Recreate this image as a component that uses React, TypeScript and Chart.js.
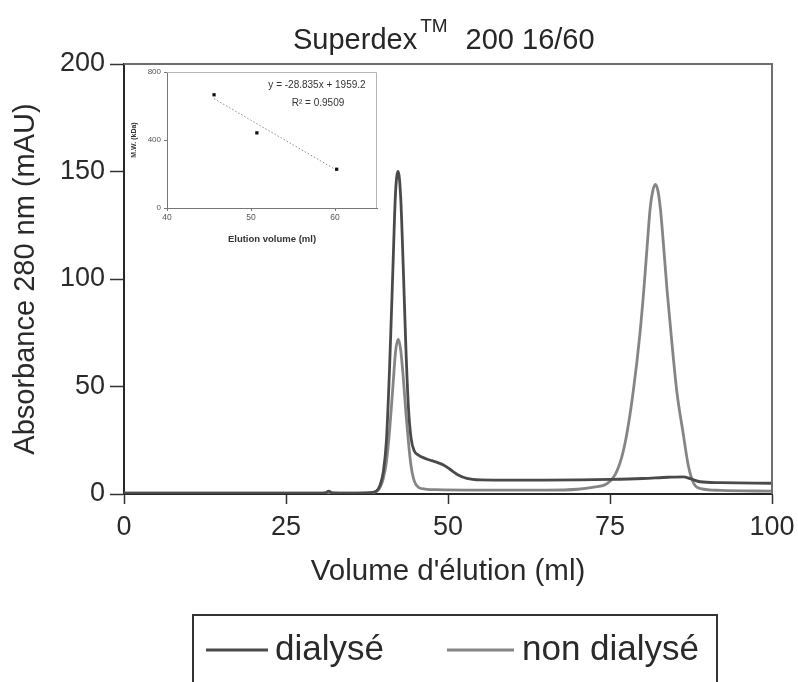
import React, { useEffect, useRef } from "react";
import { Chart, registerables } from "chart.js";

Chart.register(...registerables);

const FONT = "'Liberation Sans', Arial, Helvetica, sans-serif";

// ---- texts ----
const TITLE_MAIN = "Superdex";
const TITLE_SUP = "TM";
const TITLE_REST = "200 16/60";
const X_TITLE = "Volume d'élution (ml)";
const Y_TITLE = "Absorbance 280 nm (mAU)";
const SERIES_NAMES = ["dialysé", "non dialysé"];

// ---- main axes ----
const X_TICKS = [0, 25, 50, 75, 100];
const Y_TICKS = [0, 50, 100, 150, 200];

// ---- main series (elution volume ml, absorbance mAU) ----
const dialyseX = [0, 10, 20, 30, 31, 31.6, 32.2, 35, 38, 39, 39.5, 40, 40.5, 41, 41.5, 41.9, 42.3, 42.7, 43.1, 43.5, 43.9, 44.3, 44.8, 45.5, 46.5, 47.5, 48.5, 49.3, 50.3, 51.5, 52.9, 55, 60, 65, 70, 75, 80, 84, 86.3, 87.5, 88.9, 92, 100];
const dialyseY = [0.4, 0.4, 0.4, 0.4, 0.5, 1.3, 0.5, 0.4, 0.6, 1.5, 4, 10, 25, 60, 105, 140, 150, 138, 105, 68, 40, 26, 20, 18, 16.5, 15.5, 14.5, 13.5, 11.5, 9, 7.3, 6.6, 6.5, 6.5, 6.6, 6.8, 7.2, 7.8, 8, 7, 5.7, 5.3, 5.0];

const nonDialyseX = [0, 10, 20, 30, 35, 38, 39, 39.5, 40, 40.5, 41, 41.5, 41.9, 42.3, 42.7, 43.1, 43.5, 43.9, 44.3, 44.8, 45.5, 46.5, 48, 55, 65, 70, 72.5, 74.5, 75.8, 76.8, 77.6, 78.6, 79.6, 80.3, 80.8, 81.2, 81.6, 82, 82.4, 82.8, 83.2, 83.8, 84.5, 85.3, 86.3, 87.1, 87.9, 89, 92, 100];
const nonDialyseY = [0.4, 0.4, 0.4, 0.4, 0.4, 0.5, 1.2, 3, 7, 15, 30, 50, 66, 72, 67, 54, 38, 24, 13, 6, 3, 2.3, 2, 1.8, 1.8, 2.2, 3.2, 4.7, 9, 17, 28, 48, 74, 98, 118, 133, 141, 144, 141, 132, 118, 95, 72, 48, 28, 13, 5, 2.5, 1.7, 1.3];

// ---- inset (calibration) ----
const INSET_X_TITLE = "Elution volume (ml)";
const INSET_Y_TITLE = "M.W. (kDa)";
const INSET_X_TICKS = [40, 50, 60];
const INSET_Y_TICKS = [0, 400, 800];
const insetVolume = [45.6, 50.7, 60.2];
const insetMW = [666, 442, 228];
const trendVolume = [45.6, 60.2];
const trendMW = [643, 222];
const INSET_EQUATION = "y = -28.835x + 1959.2";
const INSET_R2 = "R\u00B2 = 0.9509";

const COLOR_DIALYSE = "#4a4a4a";
const COLOR_NON = "#858585";

const toPoints = (xs: number[], ys: number[]) => xs.map((x, i) => ({ x, y: ys[i] }));

const framePlugin = {
  id: "frame",
  afterDatasetsDraw(chart: any) {
    const { ctx, chartArea: a } = chart;
    ctx.save();
    ctx.strokeStyle = "#6e6e6e";
    ctx.lineWidth = 2;
    ctx.beginPath();
    ctx.moveTo(a.left, a.top);
    ctx.lineTo(a.right, a.top);
    ctx.lineTo(a.right, a.bottom);
    ctx.stroke();
    ctx.restore();
  },
};

const titlePlugin = {
  id: "mainTitle",
  afterDraw(chart: any) {
    const { ctx } = chart;
    ctx.save();
    ctx.fillStyle = "#262626";
    ctx.textBaseline = "alphabetic";
    ctx.textAlign = "left";
    const big = `29px ${FONT}`;
    const sup = `19px ${FONT}`;
    let x = 293;
    ctx.font = big;
    ctx.fillText(TITLE_MAIN, x, 49);
    x += ctx.measureText(TITLE_MAIN).width + 3;
    ctx.font = sup;
    ctx.fillText(TITLE_SUP, x, 32);
    x += ctx.measureText(TITLE_SUP).width + 18;
    ctx.font = big;
    ctx.fillText(TITLE_REST, x, 49);
    ctx.restore();
  },
};

const legendPlugin = {
  id: "boxLegend",
  afterDraw(chart: any) {
    const { ctx } = chart;
    ctx.save();
    ctx.strokeStyle = "#333";
    ctx.lineWidth = 2;
    ctx.strokeRect(193, 615, 524, 120);
    const items = [
      { x0: 206, x1: 268, tx: 275, color: COLOR_DIALYSE },
      { x0: 447, x1: 514, tx: 522, color: COLOR_NON },
    ];
    ctx.font = `35px ${FONT}`;
    ctx.textBaseline = "middle";
    ctx.textAlign = "left";
    items.forEach((it, i) => {
      ctx.strokeStyle = it.color;
      ctx.lineWidth = 3;
      ctx.beginPath();
      ctx.moveTo(it.x0, 650);
      ctx.lineTo(it.x1, 650);
      ctx.stroke();
      ctx.fillStyle = "#2a2a2a";
      ctx.fillText(SERIES_NAMES[i], it.tx, 650);
    });
    ctx.restore();
  },
};

const insetTextPlugin = {
  id: "insetText",
  afterDraw(chart: any) {
    const { ctx, chartArea: a } = chart;
    ctx.save();
    ctx.strokeStyle = "#b5b5b5";
    ctx.lineWidth = 1;
    ctx.beginPath();
    ctx.moveTo(a.left, a.top + 0.5);
    ctx.lineTo(a.right - 0.5, a.top + 0.5);
    ctx.lineTo(a.right - 0.5, a.bottom);
    ctx.stroke();
    ctx.fillStyle = "#333";
    ctx.font = `10px ${FONT}`;
    ctx.textAlign = "center";
    ctx.textBaseline = "middle";
    ctx.fillText(INSET_EQUATION, 192, 23);
    ctx.fillText(INSET_R2, 193, 41);
    ctx.restore();
  },
};

function MainChart() {
  const ref = useRef<HTMLCanvasElement | null>(null);
  useEffect(() => {
    if (!ref.current) return;
    const tickFont = { family: FONT, size: 27 };
    const chart = new Chart(ref.current, {
      type: "line",
      data: {
        datasets: [
          {
            label: SERIES_NAMES[0],
            data: toPoints(dialyseX, dialyseY),
            borderColor: COLOR_DIALYSE,
            borderWidth: 2.8,
            pointRadius: 0,
            cubicInterpolationMode: "monotone",
            fill: false,
          },
          {
            label: SERIES_NAMES[1],
            data: toPoints(nonDialyseX, nonDialyseY),
            borderColor: COLOR_NON,
            borderWidth: 2.8,
            pointRadius: 0,
            cubicInterpolationMode: "monotone",
            fill: false,
          },
        ],
      },
      options: {
        animation: false,
        responsive: false,
        maintainAspectRatio: false,
        layout: { padding: { left: 0, right: 0, top: 64, bottom: 0 } },
        plugins: {
          legend: { display: false },
          title: { display: false },
          tooltip: { enabled: false },
        },
        scales: {
          x: {
            type: "linear",
            min: 0,
            max: 100,
            afterFit: (s: any) => {
              s.height = 188;
              s.paddingRight = 26;
              s.paddingLeft = 0;
            },
            afterBuildTicks: (s: any) => {
              s.ticks = X_TICKS.map((v) => ({ value: v }));
            },
            grid: {
              drawOnChartArea: false,
              drawTicks: true,
              tickLength: 10,
              tickColor: "#333",
              tickWidth: 1.5,
            },
            border: { display: true, color: "#262626", width: 2 },
            ticks: { font: tickFont, color: "#2a2a2a", padding: 7, maxRotation: 0 },
            title: {
              display: true,
              text: X_TITLE,
              font: { family: FONT, size: 29.5 },
              color: "#2a2a2a",
              padding: { top: 0, bottom: 92 },
            },
          },
          y: {
            type: "linear",
            min: 0,
            max: 200,
            afterFit: (s: any) => {
              s.width = 124;
            },
            afterBuildTicks: (s: any) => {
              s.ticks = Y_TICKS.map((v) => ({ value: v }));
            },
            grid: {
              drawOnChartArea: false,
              drawTicks: true,
              tickLength: 14,
              tickColor: "#333",
              tickWidth: 1.5,
            },
            border: { display: true, color: "#262626", width: 2 },
            ticks: { font: tickFont, color: "#2a2a2a", padding: 5 },
            title: {
              display: true,
              text: Y_TITLE,
              font: { family: FONT, size: 29 },
              color: "#2a2a2a",
              padding: { top: 9, bottom: 0 },
            },
          },
        },
      },
      plugins: [framePlugin, titlePlugin, legendPlugin],
    } as any);
    return () => chart.destroy();
  }, []);
  return <canvas ref={ref} width={798} height={682} style={{ display: "block", width: 798, height: 682 }} />;
}

function InsetChart() {
  const ref = useRef<HTMLCanvasElement | null>(null);
  useEffect(() => {
    if (!ref.current) return;
    const chart = new Chart(ref.current, {
      type: "scatter",
      data: {
        datasets: [
          {
            type: "scatter",
            label: "standards",
            data: toPoints(insetVolume, insetMW),
            pointStyle: "rect",
            pointRadius: 2.3,
            backgroundColor: "#111",
            borderColor: "#111",
            borderWidth: 0,
          },
          {
            type: "line",
            label: "trend",
            data: toPoints(trendVolume, trendMW),
            borderColor: "#8a8a8a",
            borderWidth: 1,
            borderDash: [1.5, 2],
            pointRadius: 0,
            fill: false,
          },
        ],
      },
      options: {
        animation: false,
        responsive: false,
        maintainAspectRatio: false,
        layout: { padding: { left: 0, right: 10, top: 10, bottom: 0 } },
        plugins: {
          legend: { display: false },
          tooltip: { enabled: false },
        },
        scales: {
          x: {
            type: "linear",
            min: 40,
            max: 65,
            afterFit: (s: any) => {
              s.height = 44;
            },
            afterBuildTicks: (s: any) => {
              s.ticks = INSET_X_TICKS.map((v) => ({ value: v }));
            },
            grid: { drawOnChartArea: false, drawTicks: true, tickLength: 3, tickColor: "#777" },
            border: { display: true, color: "#777", width: 1 },
            ticks: { font: { family: FONT, size: 8.5 }, color: "#555", padding: 2, maxRotation: 0 },
            title: {
              display: true,
              text: INSET_X_TITLE,
              font: { family: FONT, size: 9.5, weight: "bold" },
              color: "#333",
              padding: { top: 0, bottom: 7 },
            },
          },
          y: {
            type: "linear",
            min: 0,
            max: 800,
            afterFit: (s: any) => {
              s.width = 42;
            },
            afterBuildTicks: (s: any) => {
              s.ticks = INSET_Y_TICKS.map((v) => ({ value: v }));
            },
            grid: { drawOnChartArea: false, drawTicks: true, tickLength: 3, tickColor: "#777" },
            border: { display: true, color: "#777", width: 1 },
            ticks: { font: { family: FONT, size: 8 }, color: "#555", padding: 3 },
            title: {
              display: true,
              text: INSET_Y_TITLE,
              font: { family: FONT, size: 7, weight: "bold" },
              color: "#333",
              padding: { top: 5, bottom: 0 },
            },
          },
        },
      },
      plugins: [insetTextPlugin],
    } as any);
    return () => chart.destroy();
  }, []);
  return (
    <canvas
      ref={ref}
      width={262}
      height={190}
      style={{ position: "absolute", left: 125, top: 62, width: 262, height: 190, display: "block" }}
    />
  );
}

export default function App() {
  return (
    <div
      style={{
        position: "fixed",
        left: 0,
        top: 0,
        width: 798,
        height: 682,
        background: "#fff",
        overflow: "hidden",
      }}
    >
      <MainChart />
      <InsetChart />
    </div>
  );
}
